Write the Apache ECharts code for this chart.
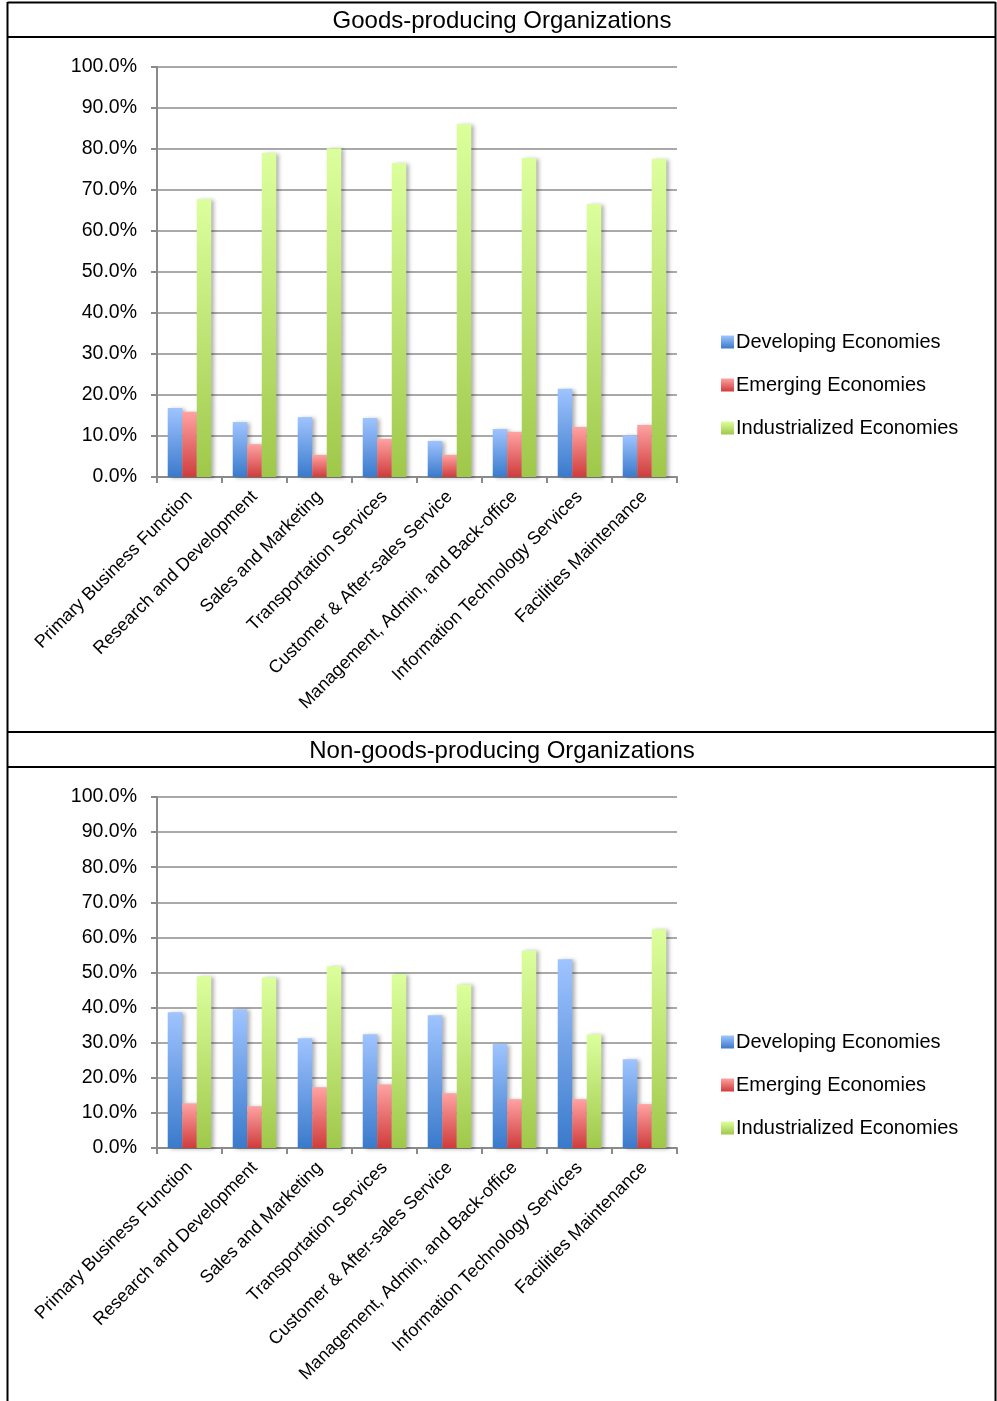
<!DOCTYPE html>
<html>
<head>
<meta charset="utf-8">
<title>Goods / Non-goods-producing Organizations</title>
<script src="https://cdn.jsdelivr.net/npm/echarts@6/dist/echarts.min.js"></script>
<style>
    html, body {
        margin: 0;
        padding: 0;
        background: #fff;
    }
    #chart {
        width: 997px;
        height: 1401px;
    }
</style>
</head>
<body>
<div id="chart"></div>
<script>
    // data (percent)
    const categories = [
        'Primary Business Function',
        'Research and Development',
        'Sales and Marketing',
        'Transportation Services',
        'Customer & After-sales Service',
        'Management, Admin, and Back-office',
        'Information Technology Services',
        'Facilities Maintenance'
    ];
    const seriesNames = ['Developing Economies', 'Emerging Economies', 'Industrialized Economies'];

    const goodsDeveloping = [16.8, 13.4, 14.6, 14.4, 8.8, 11.7, 21.5, 10.2];
    const goodsEmerging = [15.9, 8.0, 5.4, 9.3, 5.4, 11.0, 12.2, 12.7];
    const goodsIndustrialized = [67.8, 79.0, 80.2, 76.6, 86.1, 77.8, 66.6, 77.6];

    const nonGoodsDeveloping = [38.7, 39.5, 31.3, 32.4, 37.8, 29.7, 53.8, 25.3];
    const nonGoodsEmerging = [12.7, 11.9, 17.3, 18.1, 15.6, 13.9, 13.9, 12.5];
    const nonGoodsIndustrialized = [48.9, 48.6, 51.8, 49.5, 46.6, 56.3, 32.4, 62.3];

    const titles = ['Goods-producing Organizations', 'Non-goods-producing Organizations'];

    const font = '"Liberation Sans", Arial, sans-serif';

    function grad(top, bottom) {
        return new echarts.graphic.LinearGradient(0, 0, 0, 1, [
            {offset: 0, color: top},
            {offset: 1, color: bottom}
        ]);
    }

    const colors = [
        grad('#9fc4ff', '#3a7acb'),
        grad('#ffa2a2', '#cf3c3c'),
        grad('#dcff9d', '#9fc84a')
    ];

    function xAxis(gridIndex) {
        return {
            type: 'category',
            gridIndex: gridIndex,
            data: categories,
            axisLine: {lineStyle: {color: '#8a8a8a', width: 2}},
            axisTick: {show: true, length: 6, lineStyle: {color: '#8a8a8a', width: 2}},
            axisLabel: {
                rotate: 45,
                margin: 17,
                color: '#000',
                fontSize: 18,
                fontFamily: font,
                interval: 0
            }
        };
    }

    function yAxis(gridIndex) {
        return {
            type: 'value',
            gridIndex: gridIndex,
            min: 0,
            max: 100,
            interval: 10,
            axisLine: {show: true, lineStyle: {color: '#8a8a8a', width: 2}},
            axisTick: {show: true, length: 6, lineStyle: {color: '#8a8a8a', width: 2}},
            splitLine: {lineStyle: {color: '#8c8c8c', width: 1.5}},
            axisLabel: {
                margin: 20,
                color: '#000',
                fontSize: 19.5,
                fontFamily: font,
                formatter: function (v) {
                    return v.toFixed(1) + '%';
                }
            }
        };
    }

    function bar(name, data, idx, axisIndex) {
        return {
            name: name,
            type: 'bar',
            xAxisIndex: axisIndex,
            yAxisIndex: axisIndex,
            data: data,
            barGap: '0%',
            barCategoryGap: '33%',
            itemStyle: {
                color: colors[idx],
                shadowColor: 'rgba(0,0,0,0.3)',
                shadowBlur: 4,
                shadowOffsetX: 3,
                shadowOffsetY: 1
            }
        };
    }

    function legend(top) {
        return {
            orient: 'vertical',
            left: 716,
            top: top,
            itemWidth: 13,
            itemHeight: 13,
            itemGap: 23,
            icon: 'rect',
            data: seriesNames,
            textStyle: {color: '#000', fontSize: 20, fontFamily: font, padding: [0, 0, 0, -3]}
        };
    }

    const border = {color: '#000', width: 2};
    function line(x1, y1, x2, y2) {
        return {
            type: 'line',
            silent: true,
            shape: {x1: x1, y1: y1, x2: x2, y2: y2},
            style: {stroke: border.color, lineWidth: border.width}
        };
    }

    function title(text, top) {
        return {
            text: text,
            left: 497,
            textAlign: 'center',
            top: top,
            textStyle: {fontSize: 24, fontWeight: 'normal', color: '#000', fontFamily: font}
        };
    }

    let myChart = echarts.init(document.getElementById('chart'));
    let option = {
        animation: false,
        backgroundColor: '#fff',
        title: [title(titles[0], 4), title(titles[1], 734)],
        legend: [legend(327), legend(1027)],
        grid: [
            {left: 157, top: 67, width: 520, height: 410},
            {left: 157, top: 797, width: 520, height: 351}
        ],
        xAxis: [xAxis(0), xAxis(1)],
        yAxis: [yAxis(0), yAxis(1)],
        series: [
            bar(seriesNames[0], goodsDeveloping, 0, 0),
            bar(seriesNames[1], goodsEmerging, 1, 0),
            bar(seriesNames[2], goodsIndustrialized, 2, 0),
            bar(seriesNames[0], nonGoodsDeveloping, 0, 1),
            bar(seriesNames[1], nonGoodsEmerging, 1, 1),
            bar(seriesNames[2], nonGoodsIndustrialized, 2, 1)
        ],
        graphic: [
            line(7.5, 2, 7.5, 1401),
            line(995.5, 2, 995.5, 1401),
            line(7.5, 2.5, 995.5, 2.5),
            line(7.5, 37, 995.5, 37),
            line(7.5, 732, 995.5, 732),
            line(7.5, 767, 995.5, 767)
        ]
    };
    myChart.setOption(option);
</script>
</body>
</html>
